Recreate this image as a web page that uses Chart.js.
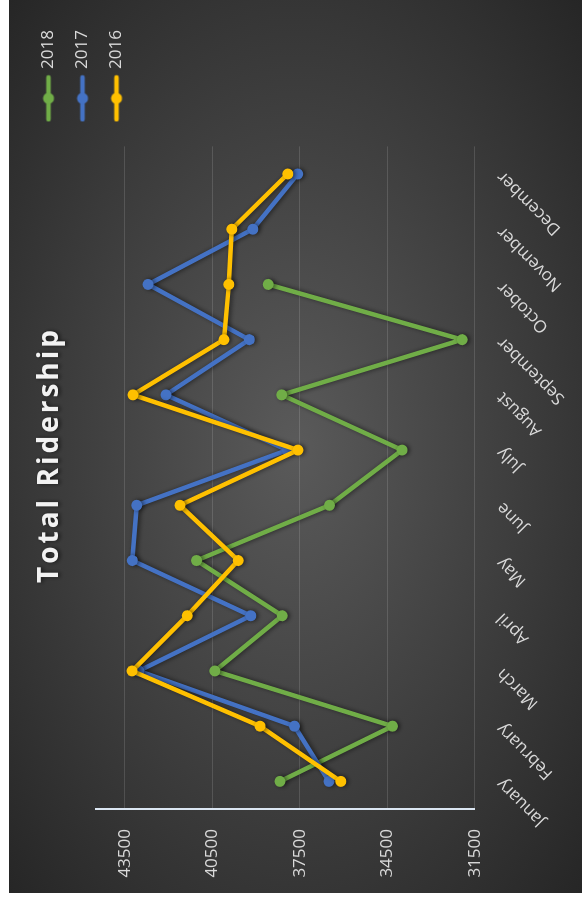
<!DOCTYPE html>
<html>
<head>
<meta charset="utf-8">
<script src="https://cdn.jsdelivr.net/npm/chart.js@4.4.1/dist/chart.umd.min.js"></script>
<style>
    html, body {
        margin: 0;
        padding: 0;
        width: 586px;
        height: 897px;
        overflow: hidden;
        background: #ffffff;
    }
    /* chart is laid out landscape and turned on its side */
    #frame {
        position: absolute;
        left: 9px;
        top: 893px;
        width: 893px;
        height: 573px;
        transform-origin: 0 0;
        transform: rotate(-90deg);
        background: radial-gradient(ellipse farthest-corner at 50% 50%, #5a5a5a 0%, #262626 100%);
    }
    #ridershipChart {
        display: block;
    }
</style>
</head>
<body>
<div id="frame">
    <canvas id="ridershipChart" width="893" height="573"></canvas>
</div>
<script>
const months = ['January', 'February', 'March', 'April', 'May', 'June',
    'July', 'August', 'September', 'October', 'November', 'December'];
const riders2018 = [38180, 34320, 40410, 38100, 41040, 36480, 33990, 38120, 31930, 38580];
const riders2017 = [36500, 37680, 43020, 39180, 43240, 43090, 37930, 42090, 39230, 42700, 39110, 37570];
const riders2016 = [36090, 38860, 43250, 41360, 39610, 41610, 37560, 43220, 40100, 39930, 39830, 37910];
const yTicks = [31500, 34500, 37500, 40500, 43500];

const textColor = '#d9d9d9';
const fontFamily = "'Open Sans', 'Noto Sans', sans-serif";
const legendGap = 10;

// Legend marker: short line with a dot in the middle
const legendMark = (color) => {
    const c = document.createElement('canvas');
    c.width = 48;
    c.height = 14;
    const g = c.getContext('2d');
    g.strokeStyle = color;
    g.lineWidth = 4.5;
    g.lineCap = 'round';
    g.beginPath();
    g.moveTo(3, 7);
    g.lineTo(45, 7);
    g.stroke();
    g.fillStyle = color;
    g.beginPath();
    g.arc(24, 7, 5.5, 0, Math.PI * 2);
    g.fill();
    return c;
};

const makeSeries = (label, data, color, order) => ({
    label,
    data,
    order,
    borderColor: color,
    backgroundColor: color,
    borderWidth: 4.5,
    borderJoinStyle: 'round',
    borderCapStyle: 'round',
    pointRadius: 5.5,
    pointBorderWidth: 0,
    pointBackgroundColor: color,
    tension: 0,
    fill: false
});

const series = [
    makeSeries('2018', riders2018, '#70ad47', 2),
    makeSeries('2017', riders2017, '#4472c4', 1),
    makeSeries('2016', riders2016, '#ffc000', 0)
];
const marks = series.map(s => legendMark(s.borderColor));

// Soft drop shadow under the lines
const lineShadow = {
    id: 'lineShadow',
    beforeDatasetsDraw(chart) {
        const ctx = chart.ctx;
        ctx.save();
        ctx.shadowColor = 'rgba(0, 0, 0, 0.55)';
        ctx.shadowBlur = 5;
        ctx.shadowOffsetX = 0;
        ctx.shadowOffsetY = 2;
    },
    afterDatasetsDraw(chart) {
        chart.ctx.restore();
    }
};

// Spaced-out title with a shadow, and a gap between plot and legend
const chartTweaks = {
    id: 'chartTweaks',
    afterInit(chart) {
        const tb = chart.titleBlock;
        const drawTitle = tb.draw.bind(tb);
        tb.draw = () => {
            const ctx = tb.ctx;
            ctx.save();
            ctx.letterSpacing = '3px';
            ctx.shadowColor = 'rgba(0, 0, 0, 0.6)';
            ctx.shadowBlur = 4;
            ctx.shadowOffsetY = 2;
            drawTitle();
            ctx.restore();
        };
        const lg = chart.legend;
        const fitLegend = lg.fit.bind(lg);
        lg.fit = () => {
            fitLegend();
            lg.width += legendGap;
        };
    },
    afterLayout(chart) {
        chart.legend.left += legendGap;
    }
};

new Chart(document.getElementById('ridershipChart').getContext('2d'), {
    type: 'line',
    data: {
        labels: months,
        datasets: series
    },
    plugins: [lineShadow, chartTweaks],
    options: {
        responsive: false,
        animation: false,
        layout: {
            padding: { left: 3, right: 20, top: 14, bottom: 3 }
        },
        plugins: {
            title: {
                display: true,
                text: 'Total Ridership',
                color: '#f2f2f2',
                font: { family: fontFamily, size: 28, weight: 'bold' },
                padding: { top: 10, bottom: 29 }
            },
            legend: {
                position: 'right',
                align: 'start',
                labels: {
                    color: textColor,
                    font: { family: fontFamily, size: 17 },
                    usePointStyle: true,
                    pointStyleWidth: 42,
                    padding: 17,
                    generateLabels: (chart) => Chart.defaults.plugins.legend.labels.generateLabels(chart)
                        .sort((a, b) => a.datasetIndex - b.datasetIndex)
                        .map(item => ({ ...item, pointStyle: marks[item.datasetIndex] }))
                }
            },
            tooltip: { enabled: false }
        },
        scales: {
            x: {
                offset: true,
                grid: { display: false },
                border: { display: false },
                ticks: {
                    color: textColor,
                    font: { family: fontFamily, size: 17 },
                    minRotation: 45,
                    maxRotation: 45,
                    autoSkip: false,
                    padding: 10
                }
            },
            y: {
                min: 31500,
                max: 44500,
                afterBuildTicks: (axis) => {
                    axis.ticks = yTicks.map(v => ({ value: v }));
                },
                afterFit: (axis) => {
                    axis.width = 81;
                },
                grid: {
                    color: 'rgba(255, 255, 255, 0.13)',
                    lineWidth: 1,
                    drawTicks: false
                },
                border: { color: '#dbe6f2', width: 2 },
                ticks: {
                    color: textColor,
                    font: { family: fontFamily, size: 17 },
                    padding: 20,
                    callback: (value) => String(value)
                }
            }
        }
    }
});
</script>
</body>
</html>
